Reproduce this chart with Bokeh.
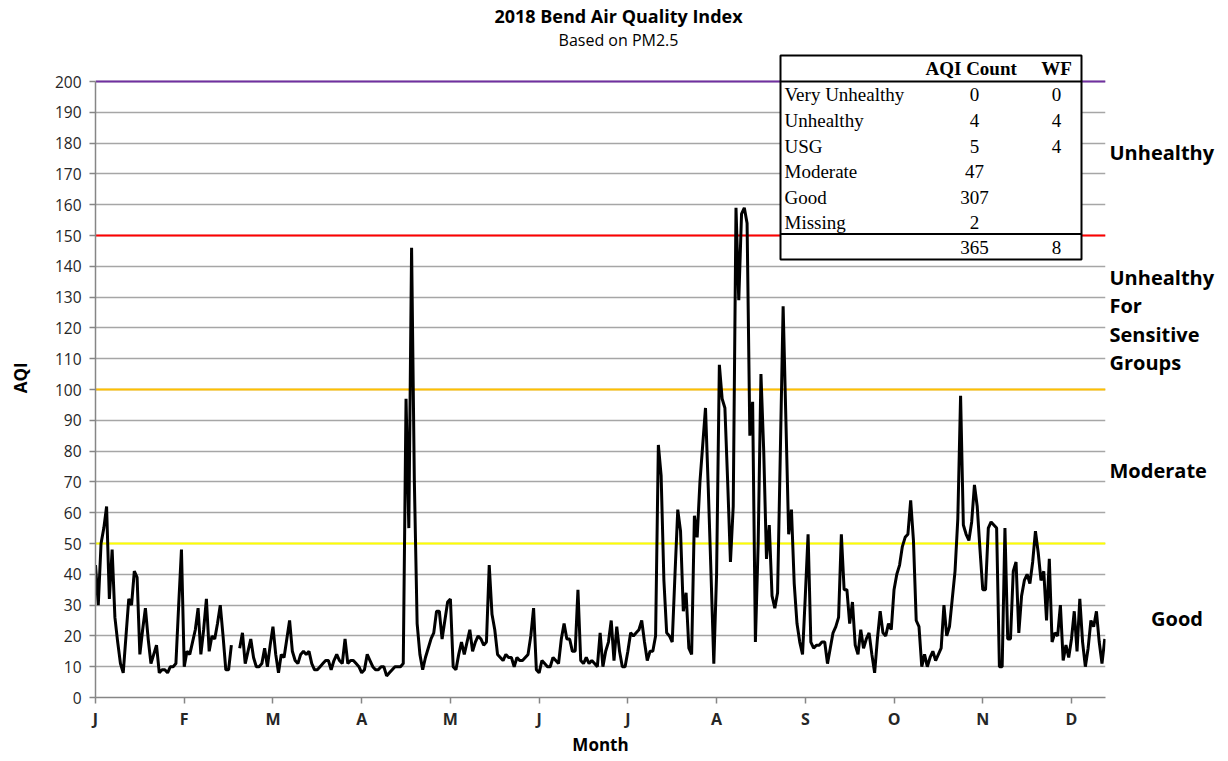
import numpy as np
from bokeh.plotting import figure
from bokeh.models import Range1d, FixedTicker, LinearAxis
from bokeh.embed import file_html
from bokeh.resources import INLINE
from bokeh.core.properties import value

nan = float("nan")
NBSP = "\u00a0"

# ---------------- data ----------------
aqi = [
    43, 30, 50, 55, 62, 32, 48, 26, 18, 11,
    8, 20, 32, 30, 41, 39, 14, 22, 29, 19,
    11, 14, 17, 8, 9, 9, 8, 10, 10, 11,
    30, 48, 10, 15, 14, 18, 22, 29, 14, 22,
    32, 15, 20, 19, 24, 30, 20, 9, 9, 17,
    nan, nan, 16, 21, 11, 15, 19, 13, 10, 10,
    11, 16, 10, 17, 23, 14, 8, 14, 13, 19,
    25, 15, 12, 11, 14, 15, 14, 15, 11, 9,
    9, 10, 11, 12, 12, 9, 12, 14, 12, 11,
    19, 11, 12, 12, 11, 10, 8, 9, 14, 12,
    10, 9, 9, 10, 10, 7, 8, 9, 10, 10,
    10, 11, 97, 55, 146, 70, 24, 14, 9, 13,
    16, 19, 21, 28, 28, 19, 25, 31, 32, 10,
    9, 14, 18, 14, 18, 22, 15, 18, 20, 19,
    17, 18, 43, 27, 22, 14, 13, 12, 14, 13,
    13, 10, 13, 12, 12, 13, 14, 20, 29, 9,
    8, 12, 11, 10, 10, 13, 12, 11, 19, 24,
    19, 19, 15, 15, 35, 12, 11, 13, 11, 12,
    11, 10, 21, 10, 15, 18, 25, 12, 23, 15,
    10, 10, 15, 21, 20, 21, 22, 25, 18, 12,
    15, 15, 20, 82, 72, 38, 21, 20, 18, 40,
    61, 54, 28, 34, 16, 14, 59, 52, 70, 82,
    94, 68, 40, 11, 40, 108, 97, 94, 70, 44,
    62, 159, 129, 157, 159, 154, 85, 96, 18, 50,
    105, 80, 45, 56, 33, 29, 34, 80, 127, 90,
    53, 61, 37, 24, 18, 14, 33, 53, 18, 16,
    17, 17, 18, 18, 11, 16, 21, 23, 26, 53,
    35, 35, 24, 31, 17, 14, 22, 16, 19, 21,
    14, 8, 19, 28, 21, 20, 24, 22, 35, 40,
    43, 49, 52, 53, 64, 51, 25, 23, 10, 14,
    10, 13, 15, 12, 14, 16, 30, 20, 23, 32,
    41, 58, 98, 56, 53, 51, 57, 69, 62, 48,
    35, 35, 55, 57, 56, 55, 10, 10, 55, 19,
    19, 41, 44, 21, 33, 38, 40, 37, 44, 54,
    47, 38, 41, 25, 45, 18, 21, 20, 30, 12,
    17, 13, 19, 28, 15, 32, 18, 10, 16, 25,
    23, 28, 18, 11, 19,
]
days = list(range(len(aqi)))

month_ticks = [0, 32, 64, 96, 128, 160, 192, 224, 256, 288, 320, 352]
month_labels = ["J", "F", "M", "A", "M", "J", "J", "A", "S", "O", "N", "D"]
y_ticks = list(range(0, 201, 10))

level_values = [50, 100, 150, 200]
level_colors = ["#FFFF00", "#FFC000", "#FF0000", "#7030A0"]

band_names = ["Unhealthy", "Unhealthy\nFor\nSensitive\nGroups", "Moderate", "Good"]

table_categories = ["Very Unhealthy", "Unhealthy", "USG", "Moderate", "Good", "Missing"]
table_aqi_count = ["0", "4", "5", "47", "307", "2"]
table_wf = ["0", "4", "4", "", "", ""]
table_total = ["365", "8"]

title_text = "2018 Bend Air Quality Index"
subtitle_text = "Based on PM2.5"

# ---------------- geometry helpers (screen px -> data) ----------------
X_PER_DAY = 2.7727
Y_PER_UNIT = 3.08
LEFT_PX, BOTTOM_PX = 95, 697
FRAME_W = 1010
FRAME_H = BOTTOM_PX
X_MAX = FRAME_W / X_PER_DAY
Y_MAX = FRAME_H / Y_PER_UNIT


def dx(px):
    return (px - LEFT_PX) / X_PER_DAY


def dy(py):
    return round((BOTTOM_PX - py) / Y_PER_UNIT, 3)


SANS = "Open Sans"
SERIF = "Liberation Serif"

p = figure(
    frame_width=FRAME_W, frame_height=FRAME_H,
    min_border_left=LEFT_PX, min_border_right=121, min_border_top=0, min_border_bottom=62,
    x_range=Range1d(0, X_MAX), y_range=Range1d(0, Y_MAX),
    output_backend="svg", toolbar_location=None,
)
p.outline_line_color = None
p.background_fill_color = "white"
p.border_fill_color = "white"

# axes
p.xaxis.ticker = FixedTicker(ticks=month_ticks)
p.xaxis.major_label_overrides = {t: l for t, l in zip(month_ticks, month_labels)}
p.yaxis.ticker = FixedTicker(ticks=y_ticks)
p.yaxis.bounds = (0, 200)
for ax in (p.xaxis[0], p.yaxis[0]):
    ax.axis_line_color = "#868686"
    ax.axis_line_width = 1.5
    ax.major_tick_line_color = "#868686"
    ax.major_tick_line_width = 1.5
    ax.major_tick_out = 6
    ax.major_tick_in = 0
    ax.minor_tick_line_color = None
    ax.major_label_text_color = "#262626"
    ax.axis_label_text_font = SANS
    ax.axis_label_text_font_style = "bold"
    ax.axis_label_text_font_size = "17px"
    ax.axis_label_text_color = "black"
p.yaxis.major_label_text_font = SANS
p.yaxis.major_label_text_font_size = "15.5px"
p.yaxis.major_label_standoff = 8
# trailing no-break spaces keep the rotated label centred on the 0-200 axis, not the whole frame
p.yaxis.axis_label = "AQI" + NBSP * 13
p.yaxis.axis_label_standoff = 20
p.xaxis.major_label_text_font = SANS
p.xaxis.major_label_text_font_style = "bold"
p.xaxis.major_label_text_font_size = "16px"
p.xaxis.major_label_standoff = 4
p.xaxis.axis_label = "Month"
p.xaxis.axis_label_standoff = 0

p.xgrid.grid_line_color = None
p.ygrid.ticker = FixedTicker(ticks=y_ticks)
p.ygrid.grid_line_color = "#A6A6A6"
p.ygrid.grid_line_width = 1.4

# AQI category level lines
p.segment(x0=[0] * len(level_values), x1=[X_MAX] * len(level_values), y0=level_values,
          y1=level_values, line_color=level_colors, line_width=2.2)

p.line(days, aqi, line_color="black", line_width=3)

# ---------------- category labels on the right (as a label-only axis) ----------------
band_rows = [[152], [277, 305, 334, 362], [470], [618]]
band_indent = [0, 0, 0, 8]
band_ticks, band_text = [], []
for name, rows, ind in zip(band_names, band_rows, band_indent):
    for line_text, py in zip(name.split("\n"), rows):
        band_ticks.append(dy(py))
        band_text.append(NBSP * ind + line_text)
rax = LinearAxis(ticker=FixedTicker(ticks=band_ticks),
                 major_label_overrides={t: s for t, s in zip(band_ticks, band_text)})
rax.axis_line_color = None
rax.major_tick_line_color = None
rax.minor_tick_line_color = None
rax.major_tick_out = 0
rax.major_tick_in = 0
rax.major_label_standoff = 4
rax.major_label_text_font = SANS
rax.major_label_text_font_style = "bold"
rax.major_label_text_font_size = "20px"
rax.major_label_text_color = "black"
p.add_layout(rax, "right")

# ---------------- table ----------------
tl, tr, tt, tb = 780, 1081, 55, 259
p.quad(left=[dx(tl)], right=[dx(tr)], top=[dy(tt)], bottom=[dy(tb)],
       fill_color="white", line_color="black", line_width=2)
p.segment(x0=[dx(tl), dx(tl)], x1=[dx(tr), dx(tr)], y0=[dy(81), dy(233.5)], y1=[dy(81), dy(233.5)],
          line_color="black", line_width=2)
row_y = [94.5, 120, 146, 171, 196.5, 221.5]
TFS = "19px"
p.text(x=[dx(925)], y=[dy(68)], text=["AQI Count"], text_font=value(SERIF), text_font_style="bold",
       text_font_size=TFS, text_baseline="middle", text_align="left", text_color="black")
p.text(x=[dx(1056)], y=[dy(68)], text=["WF"], text_font=value(SERIF), text_font_style="bold",
       text_font_size=TFS, text_baseline="middle", text_align="center", text_color="black")
p.text(x=[dx(784)] * len(row_y), y=[dy(v) for v in row_y], text=table_categories,
       text_font=value(SERIF), text_font_size=TFS, text_baseline="middle", text_align="left",
       text_color="black")
p.text(x=[dx(974)] * len(row_y), y=[dy(v) for v in row_y], text=table_aqi_count,
       text_font=value(SERIF), text_font_size=TFS, text_baseline="middle", text_align="center",
       text_color="black")
p.text(x=[dx(1056)] * len(row_y), y=[dy(v) for v in row_y], text=table_wf,
       text_font=value(SERIF), text_font_size=TFS, text_baseline="middle", text_align="center",
       text_color="black")
p.text(x=[dx(974), dx(1056)], y=[dy(247.5)] * 2, text=table_total,
       text_font=value(SERIF), text_font_size=TFS, text_baseline="middle", text_align="center",
       text_color="black")

# ---------------- titles (inside the extended frame, above the 200 line) ----------------
p.text(x=[dx(618)], y=[dy(16)], text=[title_text], text_font=value(SANS), text_font_style="bold",
       text_font_size="18px", text_baseline="middle", text_align="center", text_color="black")
p.text(x=[dx(618)], y=[dy(40)], text=[subtitle_text], text_font=value(SANS),
       text_font_size="16px", text_baseline="middle", text_align="center", text_color="black")

open("out.html", "w").write(file_html(p, INLINE))
